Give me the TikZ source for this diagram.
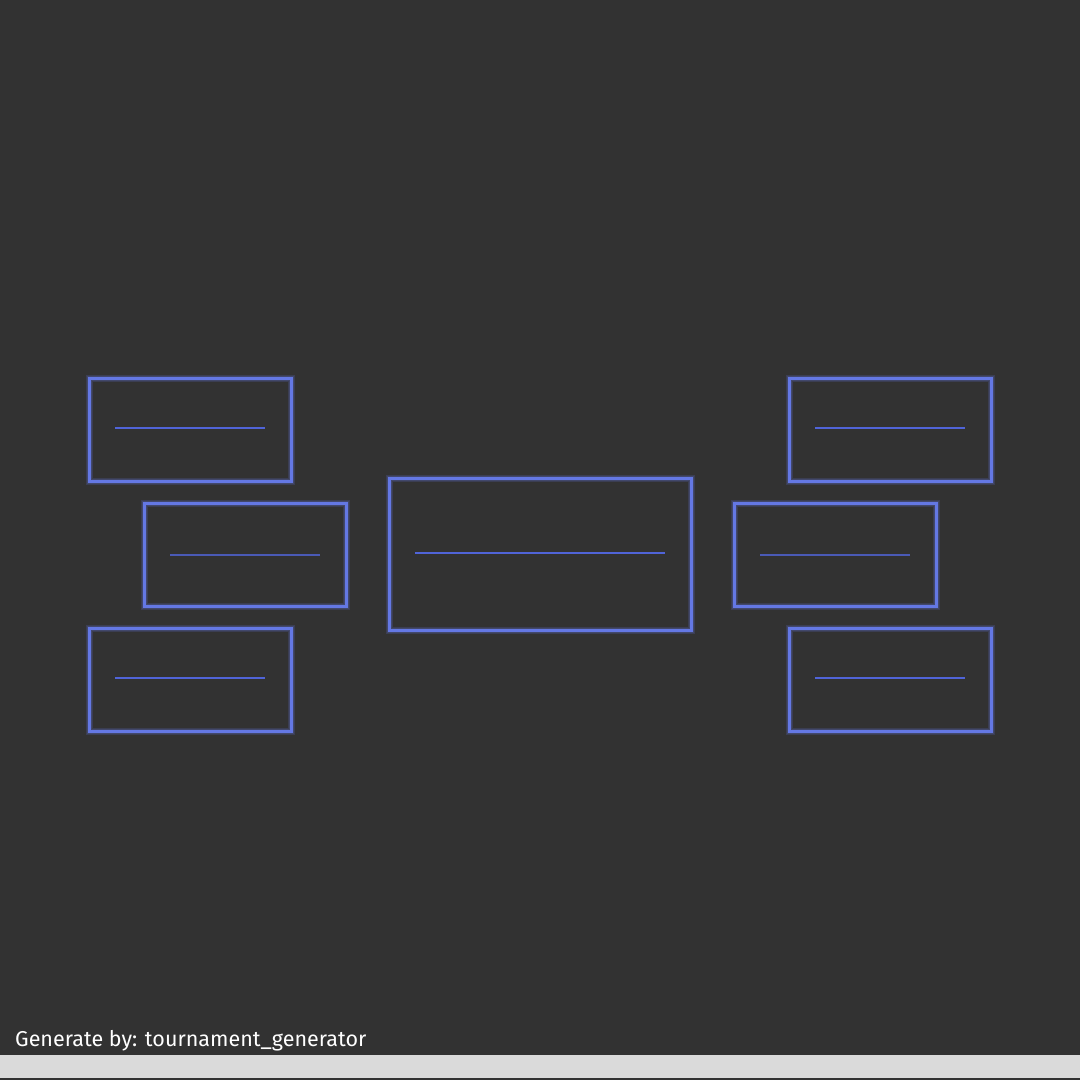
\documentclass[tikz,border=0pt]{standalone}
\usepackage{fontspec}
\setmainfont{Fira Sans}
\begin{document}
\begin{tikzpicture}[x=1pt,y=-1pt,
  glow/.style={draw=boxblue, line width=#1, draw opacity=0.18},
  matchbox/.style={rectangle, draw=boxblue, line width=3pt, inner sep=0pt},
  slot/.style={draw=slotblue, line width=1.3pt}]
\definecolor{bg}{HTML}{323232}
\definecolor{boxblue}{HTML}{6478E4}
\definecolor{slotblue}{HTML}{5064D8}
\definecolor{foot}{HTML}{DADADA}
\fill[bg] (0,0) rectangle (1080,1080);
\useasboundingbox (0,0) rectangle (1080,1080);
\fill[foot] (0,1055) rectangle (1080,1078);
% boxes
\foreach \n/\x/\y/\w/\h in {lt/190/429.5/202/103, lm/245/554.5/202/103, lb/190/679.5/202/103,
  c/540/554/302/152, rt/890/429.5/202/103, rm/835/554.5/202/103, rb/890/679.5/202/103}{
  \node[rectangle, glow=7pt, minimum width=\w, minimum height=\h] at (\x,\y) {};
  \node[rectangle, glow=5pt, minimum width=\w, minimum height=\h] at (\x,\y) {};
  \node[matchbox, minimum width=\w, minimum height=\h] (\n) at (\x,\y) {};
}
\foreach \n in {lt,lb,rt,rb}{
  \draw[slot] ([xshift=-75pt,yshift=1.5pt]\n.center) -- ([xshift=75pt,yshift=1.5pt]\n.center);
}
\foreach \n in {lm,rm}{
  \draw[slot, draw opacity=0.8] ([xshift=-75pt,yshift=-0.5pt]\n.center) -- ([xshift=75pt,yshift=-0.5pt]\n.center);
}
\draw[slot] ([xshift=-125pt,yshift=1pt]c.center) -- ([xshift=125pt,yshift=1pt]c.center);
\node[anchor=base west, inner sep=0pt, text=white, font=\fontsize{21.5}{24}\selectfont] (credit) at (15,1046) {Generate by: tournament\_generator};
\end{tikzpicture}
\end{document}
